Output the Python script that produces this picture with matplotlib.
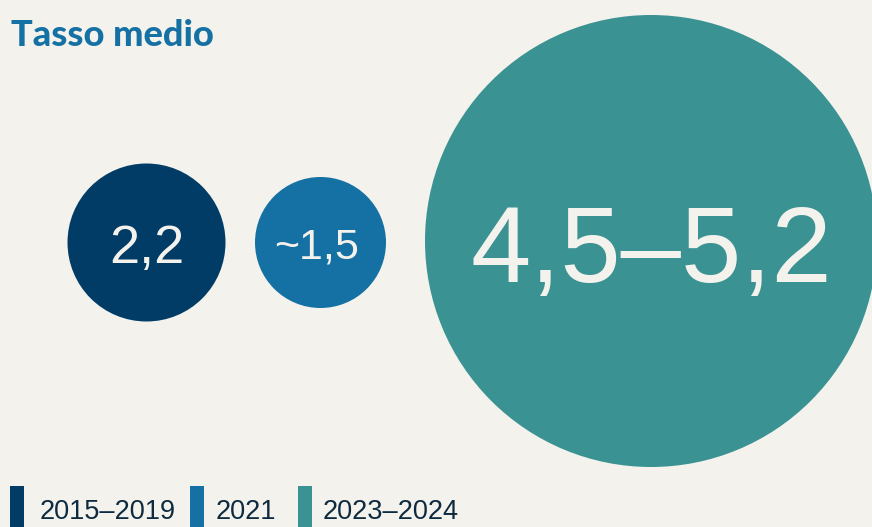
import matplotlib
matplotlib.use("Agg")
import matplotlib.pyplot as plt
from matplotlib.patches import Circle, Rectangle

# ── Data
periods = ["2015–2019", "2021", "2023–2024"]
rate_labels = ["2,2", "~1,5", "4,5–5,2"]

# ── Style
BG = "#F3F2ED"
COLORS = ["#013C66", "#1571A3", "#3A9292"]
TEXT_LIGHT = "#F3F2ED"
TEXT_DARK = "#0D2A3F"
TITLE_BLUE = "#1571A3"

# bubble layout (pixel canvas, y down)
CENTERS = [(146.5, 242.5), (320.5, 242.5), (651, 241)]
RADII = [79, 65.5, 226]
LABEL_POS = [(146.5, 263), (316.5, 259), (651.5, 282)]
LABEL_SIZE = [39, 31, 78]

W, H = 872, 527
fig = plt.figure(figsize=(W / 100, H / 100), dpi=100)
fig.patch.set_facecolor(BG)
ax = fig.add_axes([0, 0, 1, 1])
ax.set_xlim(0, W)
ax.set_ylim(H, 0)
ax.set_aspect("equal")
ax.axis("off")

ax.text(11, 46, "Tasso medio", fontsize=26, fontweight="black",
        family="Lato", color=TITLE_BLUE, ha="left", va="baseline")

for (cx, cy), r, col, lab, (tx, ty), fs in zip(CENTERS, RADII, COLORS,
                                               rate_labels, LABEL_POS, LABEL_SIZE):
    ax.add_patch(Circle((cx, cy), r, color=col, lw=0, zorder=2))
    ax.text(tx, ty, lab, fontsize=fs, family="Liberation Sans",
            color=TEXT_LIGHT, ha="center", va="baseline", zorder=3)

# legend swatches along the bottom edge
swatch_x = [10, 190, 298]
text_x = [40, 216, 323]
for sx, tx, col, per in zip(swatch_x, text_x, COLORS, periods):
    ax.add_patch(Rectangle((sx, 486), 14, 45, color=col, lw=0, clip_on=False))
    ax.text(tx, 519, per, fontsize=19.5, family="Liberation Sans",
            color=TEXT_DARK, ha="left", va="baseline")

fig.savefig("out.png", dpi=100, facecolor=BG)
